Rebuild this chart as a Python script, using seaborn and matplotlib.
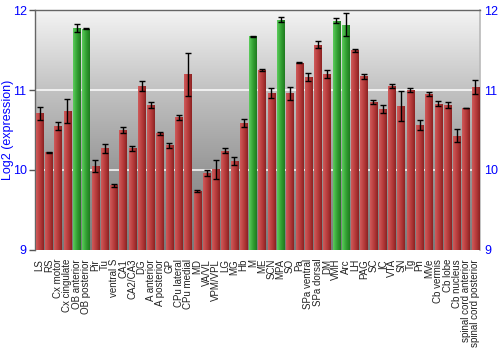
import numpy as np
import pandas as pd
import matplotlib
matplotlib.use("Agg")
import matplotlib.pyplot as plt
import seaborn as sns
from matplotlib.colors import LinearSegmentedColormap

regions = ["LS", "RS", "Cx motor", "Cx cingulate", "OB anterior", "OB posterior", "Pir", "Tu",
           "ventral S", "CA1", "CA2/CA3", "DG", "A anterior", "A posterior", "GP", "CPu lateral",
           "CPu medial", "MD", "VA/VL", "VPM/VPL", "LG", "MG", "Hb", "M", "ME", "SCN", "MPA", "SO",
           "Pa", "SPa ventral", "SPa dorsal", "DM", "VMH", "Arc", "LH", "PAG", "SC", "IC", "VTA",
           "SN", "Tg", "Pn", "MVe", "Cb vermis", "Cb lobe", "Cb nucleus", "spinal cord anterior",
           "spinal cord posterior"]
expression = [10.71, 10.22, 10.55, 10.74, 11.78, 11.77, 10.05, 10.27,
              9.81, 10.50, 10.27, 11.05, 10.81, 10.46, 10.31, 10.66,
              11.20, 9.74, 9.96, 10.01, 10.24, 10.11, 10.59, 11.675, 11.25, 10.96, 11.88, 10.96,
              11.34, 11.16, 11.57, 11.20, 11.87, 11.82, 11.50, 11.17, 10.85, 10.76, 11.05,
              10.80, 11.00, 10.56, 10.95, 10.83, 10.81, 10.43, 10.775, 11.04]
error = [0.08, 0.01, 0.05, 0.15, 0.05, 0.01, 0.08, 0.06,
         0.02, 0.04, 0.03, 0.06, 0.04, 0.02, 0.03, 0.03,
         0.27, 0.01, 0.04, 0.12, 0.03, 0.05, 0.05, 0.005, 0.01, 0.06, 0.03, 0.08,
         0.005, 0.05, 0.04, 0.05, 0.03, 0.14, 0.02, 0.03, 0.03, 0.05, 0.03,
         0.19, 0.02, 0.06, 0.03, 0.03, 0.04, 0.08, 0.005, 0.09]
y_ticks = [9, 10, 11, 12]
highlight = ["OB anterior", "OB posterior", "M", "MPA", "VMH", "Arc"]

df = pd.DataFrame({"region": regions, "expression": expression, "error": error})
df["group"] = np.where(df["region"].isin(highlight), "high", "normal")

sns.set_theme(style="white")
plt.rcParams['font.family'] = ['Liberation Sans', 'DejaVu Sans']

fig = plt.figure(figsize=(5, 3.5), dpi=100)
ax = fig.add_axes([0.07, 0.286, 0.89, 0.685])

Y_MIN, Y_MAX = y_ticks[0], y_ticks[-1]

# background gradient
bg = LinearSegmentedColormap.from_list("bg", ["#7a7a7a", "#989898", "#c2c2c2", "#f4f4f4"])
ax.imshow(np.linspace(0, 1, 256).reshape(-1, 1)[::-1], cmap=bg, aspect="auto",
          extent=[0, 1, 0, 1], transform=ax.transAxes, zorder=0)

palette = {"high": "#2e9a2e", "normal": "#b33a3a"}
sns.barplot(data=df, x="region", y="expression", hue="group", palette=palette,
            dodge=False, legend=False, width=0.8, ax=ax, zorder=2, linewidth=0)

red_cmap = LinearSegmentedColormap.from_list("r", ["#cf5a5a", "#b83c3c", "#8c2222"])
green_cmap = LinearSegmentedColormap.from_list("g", ["#5ccc5c", "#34a234", "#1f7a1f"])
grad = np.linspace(0, 1, 64).reshape(1, -1)
xs = []
for p in ax.patches:
    h = p.get_height()
    if h == 0 or np.isnan(h):
        continue
    x0, w = p.get_x(), p.get_width()
    xs.append(x0 + w / 2)
    fc = p.get_facecolor()
    cm = green_cmap if fc[1] > fc[0] else red_cmap
    im = ax.imshow(grad, cmap=cm, aspect="auto", extent=[x0, x0 + w, Y_MIN, h], zorder=3)
    im.set_clip_path(p)
    p.set_alpha(0)

centers = sorted(xs)
ax.errorbar(centers, df["expression"], yerr=df["error"], fmt="none", ecolor="black",
            elinewidth=1, capsize=2, capthick=1, zorder=4)

ax.set_xlim(-0.5, len(regions) - 0.5)
ax.set_ylim(Y_MIN, Y_MAX)
ax.set_yticks(y_ticks)
for yv in y_ticks[1:-1]:
    ax.axhline(yv, color="white", lw=1.2, alpha=0.9, zorder=1)

ax.set_xlabel("")
ax.set_ylabel("Log2 (expression)", color="#0000ff", fontsize=9)
ax.yaxis.set_label_coords(-0.047, 0.5)
ax.tick_params(axis="y", colors="#555555", labelcolor="#0000ff", labelsize=9,
               left=True, right=False, length=4, width=1, pad=2)
ax.tick_params(axis="x", labelsize=7, labelcolor="#222222", bottom=False, pad=0.5)
plt.setp(ax.get_xticklabels(), rotation=90)

for s in ["left", "top"]:
    ax.spines[s].set_color("#666666")
    ax.spines[s].set_linewidth(1)
ax.spines["right"].set_color("#bbbbbb")
ax.spines["bottom"].set_visible(False)

# right-side labels
ax2 = ax.twinx()
ax2.set_ylim(Y_MIN, Y_MAX)
ax2.set_yticks(y_ticks)
ax2.tick_params(axis="y", length=0, pad=3, labelcolor="#0000ff", labelsize=9)
for s in ax2.spines.values():
    s.set_visible(False)
ax2.grid(False)

fig.savefig("out.png", dpi=100)
